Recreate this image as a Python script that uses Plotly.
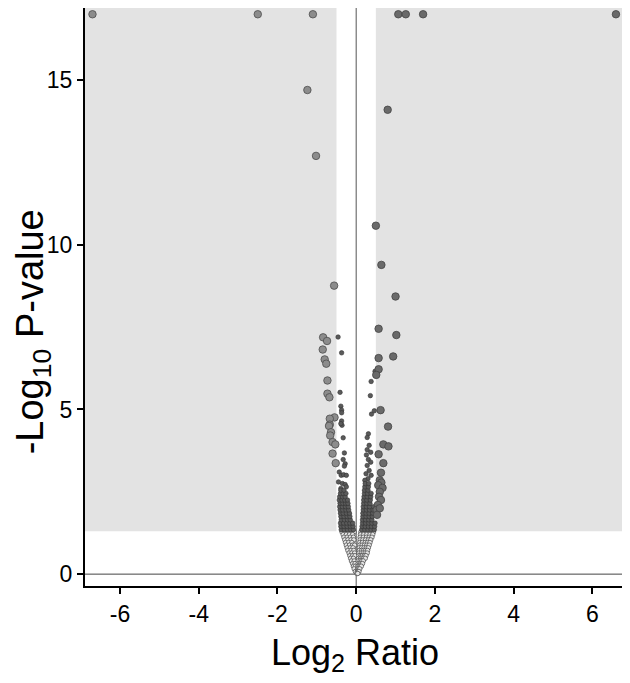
import plotly.graph_objects as go

# ---- data ----
# large markers, |log2 ratio| > 0.5 and p < 0.05
big_left_x = [-6.7, -2.5, -1.1, -1.24, -1.02, -0.56, -0.84, -0.74, -0.85, -0.8, -0.76,
              -0.73, -0.73, -0.68, -0.55, -0.67, -0.67, -0.69, -0.64, -0.66, -0.6, -0.53,
              -0.6, -0.52]
big_left_y = [17.0, 17.0, 17.0, 14.7, 12.7, 8.76, 7.19, 7.08, 6.82, 6.52, 6.39,
              5.88, 5.48, 5.37, 4.76, 4.72, 4.54, 4.5, 4.31, 4.21, 4.01, 3.94,
              3.66, 3.37]

big_right_x = [1.07, 1.26, 1.7, 6.6, 0.8, 0.5, 0.64, 1.0, 0.57, 1.02, 0.57, 0.94, 0.57,
               0.51, 0.62, 0.81, 0.69, 0.82, 0.57, 0.69, 0.63, 0.6, 0.64, 0.56, 0.67,
               0.6, 0.58, 0.63, 0.55, 0.52, 0.6, 0.53]
big_right_y = [17.0, 17.0, 17.0, 17.0, 14.1, 10.58, 9.39, 8.43, 7.45, 7.26, 6.56, 6.61, 6.22,
               6.05, 4.98, 4.48, 3.94, 3.88, 3.64, 3.37, 3.08, 2.85, 2.78, 2.7, 2.62,
               2.5, 2.35, 2.25, 2.1, 1.95, 2.0, 1.8]

# small markers, significant p but small ratio
small_x = [-0.46, -0.37, -0.41, -0.39, -0.37, -0.37, -0.37, -0.36, -0.39, -0.33, -0.3,
           -0.33, -0.28, -0.3, -0.43, -0.38, -0.32, -0.25, -0.45, -0.35, -0.28, -0.25,
           -0.39,
           -0.38, -0.3, -0.22, -0.14, -0.07,
           -0.39, -0.31, -0.23, -0.15, -0.08,
           -0.4, -0.32, -0.24, -0.16, -0.09,
           -0.38, -0.3, -0.22, -0.15,
           -0.39, -0.31, -0.23, -0.16,
           -0.4, -0.33, -0.25, -0.17,
           -0.41, -0.34, -0.26, -0.19,
           -0.42, -0.35, -0.27, -0.2,
           -0.41, -0.34, -0.27, -0.21,
           -0.43, -0.36, -0.29, -0.22,
           -0.42, -0.35, -0.28,
           -0.4, -0.33, -0.26,
           -0.39, -0.31,
           0.48, 0.38, 0.36, 0.46, 0.39, 0.31, 0.28, 0.33, 0.28, 0.37, 0.26, 0.31,
           0.37, 0.28, 0.33, 0.25, 0.38, 0.3, 0.22,
           0.14, 0.22, 0.3, 0.38, 0.46,
           0.15, 0.23, 0.31, 0.39, 0.47,
           0.16, 0.24, 0.32, 0.4, 0.48,
           0.16, 0.24, 0.32, 0.4,
           0.17, 0.25, 0.33, 0.41,
           0.17, 0.25, 0.33, 0.42,
           0.18, 0.26, 0.34, 0.43,
           0.18, 0.26, 0.34, 0.44,
           0.19, 0.27, 0.35,
           0.19, 0.27, 0.36,
           0.2, 0.28, 0.37,
           0.21, 0.29, 0.38,
           0.21, 0.3,
           0.22, 0.31,
           0.23, 0.32]
small_y = [7.2, 6.72, 5.52, 5.1, 4.98, 4.9, 4.65, 4.52, 4.57, 4.14, 3.68,
           3.48, 3.35, 3.28, 3.1, 3.0, 3.02, 3.0, 2.8, 2.75, 2.72, 2.65,
           2.6,
           1.35, 1.35, 1.35, 1.35, 1.35,
           1.45, 1.45, 1.45, 1.45, 1.45,
           1.55, 1.55, 1.55, 1.55, 1.55,
           1.65, 1.65, 1.65, 1.65,
           1.75, 1.75, 1.75, 1.75,
           1.85, 1.85, 1.85, 1.85,
           1.95, 1.95, 1.95, 1.95,
           2.05, 2.05, 2.05, 2.05,
           2.15, 2.15, 2.15, 2.15,
           2.25, 2.25, 2.25, 2.25,
           2.35, 2.35, 2.35,
           2.45, 2.45, 2.45,
           2.55, 2.55,
           6.16, 5.85, 5.42, 4.96, 4.86, 4.26, 4.15, 3.91, 3.78, 3.7, 3.62, 3.48,
           3.4, 3.3, 3.15, 3.05, 3.0, 2.9, 2.85,
           1.35, 1.35, 1.35, 1.35, 1.35,
           1.45, 1.45, 1.45, 1.45, 1.45,
           1.55, 1.55, 1.55, 1.55, 1.55,
           1.65, 1.65, 1.65, 1.65,
           1.75, 1.75, 1.75, 1.75,
           1.85, 1.85, 1.85, 1.85,
           1.95, 1.95, 1.95, 1.95,
           2.05, 2.05, 2.05, 2.05,
           2.15, 2.15, 2.15,
           2.25, 2.25, 2.25,
           2.35, 2.35, 2.35,
           2.45, 2.45, 2.45,
           2.55, 2.55,
           2.65, 2.65,
           2.75, 2.75]

# not significant (p >= 0.05)
ns_x = [-0.36, -0.28, -0.2, -0.12, -0.05,
        -0.33, -0.25, -0.17, -0.09,
        -0.31, -0.23, -0.15, -0.07,
        -0.29, -0.21, -0.13, -0.06,
        -0.27, -0.19, -0.11,
        -0.25, -0.17, -0.09, -0.04,
        -0.23, -0.15, -0.08,
        -0.21, -0.13, -0.06,
        -0.18, -0.11, -0.04,
        -0.16, -0.09, -0.03,
        -0.14, -0.07,
        -0.12, -0.05,
        -0.09, -0.03,
        -0.07, -0.02,
        -0.05, -0.02,
        0.12, 0.2, 0.28, 0.36, 0.44,
        0.11, 0.19, 0.27, 0.35, 0.42,
        0.1, 0.18, 0.26, 0.33, 0.4,
        0.1, 0.17, 0.24, 0.31, 0.37,
        0.09, 0.16, 0.23, 0.29, 0.35,
        0.09, 0.15, 0.21, 0.27, 0.33,
        0.08, 0.14, 0.2, 0.26, 0.31,
        0.08, 0.14, 0.19, 0.24, 0.29,
        0.07, 0.13, 0.18, 0.23, 0.28,
        0.07, 0.12, 0.16, 0.21, 0.25,
        0.06, 0.11, 0.15, 0.19, 0.23,
        0.05, 0.1, 0.14, 0.18,
        0.05, 0.09, 0.12, 0.16,
        0.04, 0.07, 0.1, 0.13,
        0.04, 0.06, 0.09,
        0.03, 0.05, 0.07,
        0.02, 0.04]
ns_y = [1.28, 1.28, 1.28, 1.28, 1.28,
        1.2, 1.2, 1.2, 1.2,
        1.12, 1.12, 1.12, 1.12,
        1.04, 1.04, 1.04, 1.04,
        0.96, 0.96, 0.96,
        0.88, 0.88, 0.88, 0.88,
        0.8, 0.8, 0.8,
        0.72, 0.72, 0.72,
        0.64, 0.64, 0.64,
        0.56, 0.56, 0.56,
        0.48, 0.48,
        0.4, 0.4,
        0.32, 0.32,
        0.24, 0.24,
        0.16, 0.08,
        1.28, 1.28, 1.28, 1.28, 1.28,
        1.2, 1.2, 1.2, 1.2, 1.2,
        1.12, 1.12, 1.12, 1.12, 1.12,
        1.04, 1.04, 1.04, 1.04, 1.04,
        0.96, 0.96, 0.96, 0.96, 0.96,
        0.88, 0.88, 0.88, 0.88, 0.88,
        0.8, 0.8, 0.8, 0.8, 0.8,
        0.72, 0.72, 0.72, 0.72, 0.72,
        0.64, 0.64, 0.64, 0.64, 0.64,
        0.56, 0.56, 0.56, 0.56, 0.56,
        0.48, 0.48, 0.48, 0.48, 0.48,
        0.4, 0.4, 0.4, 0.4,
        0.32, 0.32, 0.32, 0.32,
        0.24, 0.24, 0.24, 0.24,
        0.16, 0.16, 0.16,
        0.08, 0.08, 0.08,
        0.02, 0.02]

x_ticks = [-6, -4, -2, 0, 2, 4, 6]
x_labels = ["-6", "-4", "-2", "0", "2", "4", "6"]
y_ticks = [0, 5, 10, 15]
x_rng = [-6.89, 6.83]
y_rng = [-0.36, 17.19]
ratio_cut = 0.5
p_cut = 1.3  # -log10(0.05)

FONT = "Liberation Sans, Arial, sans-serif"
shade = "#e3e3e3"

fig = go.Figure()

fig.add_trace(go.Scatter(x=ns_x, y=ns_y, mode="markers",
    marker=dict(size=4.5, color="#e6e6e6", line=dict(color="#444444", width=0.7))))
fig.add_trace(go.Scatter(x=small_x, y=small_y, mode="markers",
    marker=dict(size=4.5, color="#5a5a5a", line=dict(color="#333333", width=0.6))))
fig.add_trace(go.Scatter(x=big_left_x, y=big_left_y, mode="markers",
    marker=dict(size=7.5, color="#8c8c8c", line=dict(color="#4d4d4d", width=0.8))))
fig.add_trace(go.Scatter(x=big_right_x, y=big_right_y, mode="markers",
    marker=dict(size=7.5, color="#6a6a6a", line=dict(color="#444444", width=0.8))))

# shaded significance regions + reference lines
fig.add_shape(type="rect", x0=x_rng[0], x1=-ratio_cut, y0=p_cut, y1=y_rng[1],
              fillcolor=shade, line_width=0, layer="below")
fig.add_shape(type="rect", x0=ratio_cut, x1=x_rng[1], y0=p_cut, y1=y_rng[1],
              fillcolor=shade, line_width=0, layer="below")
fig.add_shape(type="line", x0=0, x1=0, y0=y_rng[0], y1=y_rng[1],
              line=dict(color="#555555", width=1), layer="below")
fig.add_shape(type="line", x0=x_rng[0], x1=x_rng[1], y0=0, y1=0,
              line=dict(color="#444444", width=1), layer="below")

# y title as a rotated annotation so it can sit a bit lower, like the source
fig.add_annotation(text="-Log<sub>10</sub> P-value", textangle=-90,
                   xref="paper", yref="paper", x=-0.097, y=0.44,
                   xanchor="center", yanchor="middle", showarrow=False,
                   font=dict(size=38))

# page body adds an 8px offset, margins compensate for it
fig.update_layout(
    width=630, height=683,
    margin=dict(l=77, r=13, t=0, b=105),
    plot_bgcolor="white", paper_bgcolor="white",
    showlegend=False,
    font=dict(family=FONT, color="black"),
)
fig.update_xaxes(range=x_rng, tickvals=x_ticks, ticktext=x_labels, automargin=False,
                 showgrid=False, zeroline=False,
                 showline=True, linecolor="black", linewidth=2,
                 ticks="outside", ticklen=6, tickwidth=2, tickcolor="black",
                 tickfont=dict(size=23),
                 title=dict(text="Log<sub>2</sub> Ratio", font=dict(size=36), standoff=14))
fig.update_yaxes(range=y_rng, tickvals=y_ticks, automargin=False,
                 showgrid=False, zeroline=False,
                 showline=True, linecolor="black", linewidth=2,
                 ticks="outside", ticklen=6, tickwidth=2, tickcolor="black",
                 tickfont=dict(size=23))

fig.write_html("out.html")
